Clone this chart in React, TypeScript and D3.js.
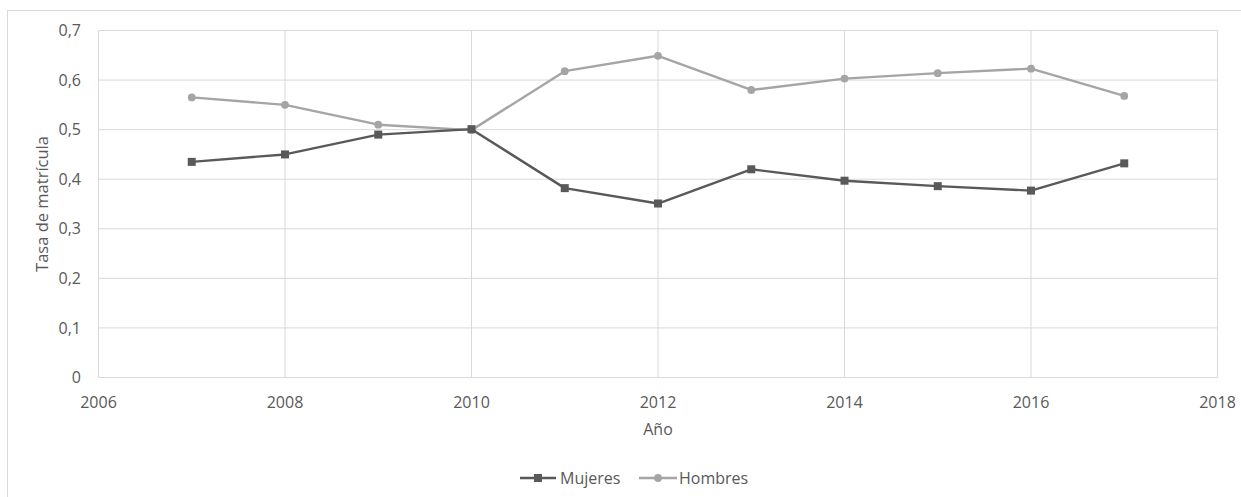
import React from "react";
import * as d3 from "d3";

// Enrolment rate by sex, 2007–2017
const years = [2007, 2008, 2009, 2010, 2011, 2012, 2013, 2014, 2015, 2016, 2017];
const mujeres = [0.435, 0.45, 0.49, 0.501, 0.382, 0.351, 0.42, 0.397, 0.386, 0.377, 0.432];
const hombres = [0.565, 0.55, 0.51, 0.499, 0.618, 0.649, 0.58, 0.603, 0.614, 0.623, 0.568];
const xTicks = [2006, 2008, 2010, 2012, 2014, 2016, 2018];
const yTicks = [0, 0.1, 0.2, 0.3, 0.4, 0.5, 0.6, 0.7];

const W = 1241;
const H = 497;
const FONT = "'Open Sans', 'Noto Sans', sans-serif";
const TEXT = "#595959";
const GRID = "#d9d9d9";
const C_M = "#595959";
const C_H = "#a5a5a5";

const fmt = (v: number) => (v === 0 ? "0" : v.toFixed(1).replace(".", ","));

export default function App() {
  const plot = { left: 98.5, right: 1217.5, top: 30.5, bottom: 377.5 };
  const x = d3.scaleLinear().domain([2006, 2018]).range([plot.left, plot.right]);
  const y = d3.scaleLinear().domain([0, 0.7]).range([plot.bottom, plot.top]);

  const line = d3
    .line<[number, number]>()
    .x((d) => x(d[0]))
    .y((d) => y(d[1]));

  const mPts: [number, number][] = years.map((yr, i) => [yr, mujeres[i]]);
  const hPts: [number, number][] = years.map((yr, i) => [yr, hombres[i]]);

  const sq = 8;

  return (
    <svg
      width={W}
      height={H}
      style={{ position: "absolute", left: 0, top: 0, background: "#fff" }}
      fontFamily={FONT}
    >
      <rect x={0} y={0} width={W} height={H} fill="#fff" />
      {/* chart frame */}
      <rect x={7.5} y={10.5} width={W} height={H} fill="none" stroke={GRID} strokeWidth={1} />

      {/* gridlines */}
      {yTicks.map((t) => (
        <line key={"gy" + t} x1={plot.left} x2={plot.right} y1={y(t)} y2={y(t)} stroke={GRID} strokeWidth={1} />
      ))}
      {xTicks.map((t) => (
        <line key={"gx" + t} x1={x(t)} x2={x(t)} y1={plot.top} y2={plot.bottom} stroke={GRID} strokeWidth={1} />
      ))}

      {/* y tick labels */}
      {yTicks.map((t) => (
        <text key={"ly" + t} x={81} y={y(t)} dy="0.35em" textAnchor="end" fontSize={16} fill={TEXT}>
          {fmt(t)}
        </text>
      ))}
      {/* x tick labels */}
      {xTicks.map((t) => (
        <text key={"lx" + t} x={x(t)} y={402} dy="0.35em" textAnchor="middle" fontSize={16} fill={TEXT}>
          {t}
        </text>
      ))}

      {/* axis titles */}
      <text
        transform={`translate(42,${(plot.top + plot.bottom) / 2}) rotate(-90)`}
        dy="0.35em"
        textAnchor="middle"
        fontSize={16.5}
        fill={TEXT}
      >
        Tasa de matrícula
      </text>
      <text x={(plot.left + plot.right) / 2} y={429} dy="0.35em" textAnchor="middle" fontSize={16} fill={TEXT}>
        Año
      </text>

      {/* series */}
      <path d={line(hPts) || ""} fill="none" stroke={C_H} strokeWidth={2.4} strokeLinejoin="round" />
      {hPts.map((p, i) => (
        <circle key={"h" + i} cx={x(p[0])} cy={y(p[1])} r={3.9} fill={C_H} />
      ))}
      <path d={line(mPts) || ""} fill="none" stroke={C_M} strokeWidth={2.4} strokeLinejoin="round" />
      {mPts.map((p, i) => (
        <rect key={"m" + i} x={x(p[0]) - sq / 2} y={y(p[1]) - sq / 2} width={sq} height={sq} fill={C_M} />
      ))}

      {/* legend */}
      <g>
        <line x1={520} x2={556} y1={478} y2={478} stroke={C_M} strokeWidth={2.4} />
        <rect x={538 - sq / 2} y={478 - sq / 2} width={sq} height={sq} fill={C_M} />
        <text x={560} y={478} dy="0.35em" fontSize={16} fill={TEXT}>
          Mujeres
        </text>
        <line x1={639} x2={677} y1={478} y2={478} stroke={C_H} strokeWidth={2.4} />
        <circle cx={658} cy={478} r={3.9} fill={C_H} />
        <text x={679} y={478} dy="0.35em" fontSize={16} fill={TEXT}>
          Hombres
        </text>
      </g>
    </svg>
  );
}
